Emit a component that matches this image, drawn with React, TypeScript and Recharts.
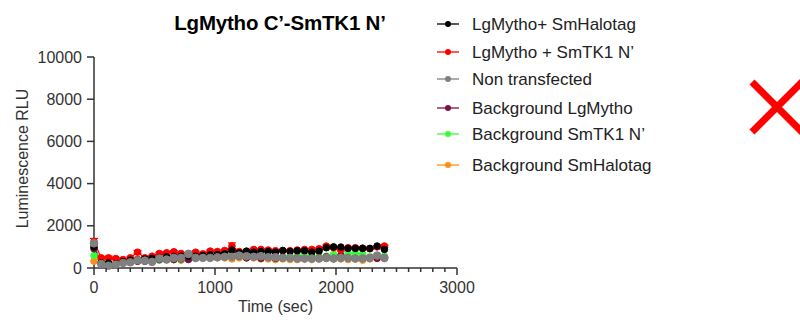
import { ErrorBar, Label, Line, LineChart, XAxis, YAxis } from "recharts"

const times = [0, 60, 120, 180, 240, 300, 360, 420, 480, 540, 600, 660, 720, 780, 840, 900, 960, 1020, 1080, 1140, 1200, 1260, 1320, 1380, 1440, 1500, 1560, 1620, 1680, 1740, 1800, 1860, 1920, 1980, 2040, 2100, 2160, 2220, 2280, 2340, 2400]

const halotag = [1000, 240, 240, 200, 300, 370, 400, 430, 460, 480, 530, 540, 560, 560, 560, 590, 620, 640, 670, 850, 720, 800, 750, 780, 780, 750, 830, 780, 820, 820, 750, 800, 960, 1000, 990, 930, 930, 930, 930, 1040, 880]
const tk1 = [1250, 480, 480, 450, 400, 480, 750, 480, 560, 690, 720, 770, 690, 640, 750, 670, 800, 780, 830, 1040, 780, 780, 880, 880, 850, 820, 820, 820, 850, 880, 880, 910, 1040, 960, 850, 960, 960, 940, 910, 1000, 1040]
const tk1Err = [150, 60, 80, 50, 40, 50, 80, 50, 40, 50, 50, 50, 40, 40, 50, 40, 50, 40, 50, 150, 40, 40, 50, 40, 40, 40, 40, 40, 40, 40, 40, 40, 50, 40, 40, 40, 40, 40, 40, 50, 50]
const nonTransfected = [1170, 190, 110, 160, 240, 270, 370, 350, 290, 450, 400, 480, 480, 670, 480, 480, 480, 510, 530, 530, 590, 560, 530, 560, 510, 510, 480, 480, 450, 450, 450, 450, 480, 450, 480, 480, 450, 460, 480, 590, 480]
const bgLgMytho = [910, 270, 160, 160, 270, 320, 320, 320, 400, 400, 430, 400, 430, 400, 480, 530, 560, 530, 560, 530, 560, 480, 530, 460, 500, 460, 510, 480, 480, 460, 480, 480, 530, 460, 590, 480, 460, 450, 480, 460, 480]
const bgSmTK1 = [590, 320, 240, 200, 240, 270, 320, 320, 320, 370, 400, 400, 400, 430, 450, 480, 480, 530, 560, 590, 560, 610, 620, 660, 560, 480, 530, 560, 590, 610, 590, 560, 560, 640, 560, 690, 690, 660, 530, 560, 560]
const bgSmHalotag = [320, 210, 160, 200, 270, 320, 370, 370, 400, 400, 400, 400, 370, 430, 590, 480, 480, 480, 480, 430, 480, 480, 480, 430, 430, 400, 430, 400, 400, 430, 400, 430, 450, 430, 430, 400, 430, 370, 430, 450, 450]

const xTicks = [0, 100, 200, 300, 400, 500, 600, 700, 800, 900, 1000, 1100, 1200, 1300, 1400, 1500, 1600, 1700, 1800, 1900, 2000, 2100, 2200, 2300, 2400, 2500, 2600, 2700, 2800, 2900, 3000]
const yTicks = [0, 2000, 4000, 6000, 8000, 10000]

const data = times.map((t, i) => ({
    t,
    halotag: halotag[i],
    tk1: tk1[i],
    tk1Err: tk1Err[i],
    nonTransfected: nonTransfected[i],
    bgLgMytho: bgLgMytho[i],
    bgSmTK1: bgSmTK1[i],
    bgSmHalotag: bgSmHalotag[i],
}))

const font = "'Liberation Sans', Arial, sans-serif"
const axisColor = "#333"

const legendItems = [
    { label: "LgMytho+ SmHalotag", color: "#000000", y: 24 },
    { label: "LgMytho + SmTK1 N\u2019", color: "#ff0000", y: 52 },
    { label: "Non transfected", color: "#808080", y: 79 },
    { label: "Background LgMytho", color: "#7a1045", y: 108 },
    { label: "Background SmTK1 N\u2019", color: "#33ff33", y: 134 },
    { label: "Background SmHalotag", color: "#ff8c1a", y: 165 },
]

function XTick(props: any) {
    const { x, y, payload } = props
    const major = payload.value % 1000 === 0
    return (
        <g>
            <line x1={x} x2={x} y1={y} y2={y + (major ? 7 : 4)} stroke={axisColor} strokeWidth={1.5} />
            {major && (
                <text x={x} y={y + 25} textAnchor="middle" fontSize={16} fill="#333" fontFamily={font}>
                    {payload.value}
                </text>
            )}
        </g>
    )
}

function App() {
    const series = [
        { key: "bgSmHalotag", color: "#ff8c1a", r: 3.3 },
        { key: "bgSmTK1", color: "#33ff33", r: 3.3 },
        { key: "bgLgMytho", color: "#7a1045", r: 3.3 },
        { key: "tk1", color: "#ff0000", r: 3.3 },
        { key: "halotag", color: "#000000", r: 3.3 },
        { key: "nonTransfected", color: "#808080", r: 3.8 },
    ]

    return (
        <div style={{ position: "absolute", left: 0, top: 0, width: 800, height: 323, background: "#fff", fontFamily: font }}>
            <div style={{ position: "absolute", left: 0, width: 560, top: 11, textAlign: "center", fontWeight: "bold", fontSize: 20.5, color: "#000", letterSpacing: -0.2 }}>
                LgMytho C’-SmTK1 N’
            </div>

            <LineChart width={800} height={323} data={data} margin={{ top: 57, right: 343, bottom: 0, left: 0 }}>
                <XAxis
                    dataKey="t"
                    type="number"
                    domain={[0, 3000]}
                    ticks={xTicks}
                    interval={0}
                    height={55}
                    tickSize={0}
                    tickMargin={0}
                    tickLine={false}
                    tick={<XTick />}
                    axisLine={{ stroke: axisColor, strokeWidth: 1.5 }}
                >
                    <Label
                        content={(p: any) => (
                            <text x={p.viewBox.x + p.viewBox.width / 2} y={p.viewBox.y + 44} textAnchor="middle" fontSize={16} fill="#333" fontFamily={font}>
                                Time (sec)
                            </text>
                        )}
                    />
                </XAxis>
                <YAxis
                    type="number"
                    domain={[0, 10000]}
                    ticks={yTicks}
                    width={94}
                    tickSize={7}
                    tickMargin={5}
                    tick={{ fontSize: 16, fill: "#333", fontFamily: font }}
                    tickLine={{ stroke: axisColor, strokeWidth: 1.5 }}
                    axisLine={{ stroke: axisColor, strokeWidth: 1.5 }}
                >
                    <Label
                        content={(p: any) => {
                            const cx = p.viewBox.x + 22
                            const cy = p.viewBox.y + p.viewBox.height / 2 - 4
                            return (
                                <text x={cx} y={cy} transform={`rotate(-90 ${cx} ${cy})`} textAnchor="middle" dominantBaseline="central" fontSize={16} fill="#333" fontFamily={font}>
                                    Luminescence RLU
                                </text>
                            )
                        }}
                    />
                </YAxis>
                {series.map((s) => (
                    <Line
                        key={s.key}
                        dataKey={s.key}
                        type="linear"
                        stroke={s.color}
                        strokeWidth={1.2}
                        dot={{ r: s.r, fill: s.color, stroke: s.color, strokeWidth: 1 }}
                        activeDot={false}
                        isAnimationActive={false}
                    >
                        {s.key === "tk1" && <ErrorBar dataKey="tk1Err" direction="y" width={4} stroke="#ff0000" strokeWidth={1.2} />}
                    </Line>
                ))}
            </LineChart>

            <svg width={800} height={323} style={{ position: "absolute", left: 0, top: 0, pointerEvents: "none" }}>
                {legendItems.map((item) => (
                    <g key={item.label}>
                        <line x1={437} x2={459} y1={item.y} y2={item.y} stroke={item.color} strokeWidth={1.3} />
                        <circle cx={448} cy={item.y} r={3} fill={item.color} />
                        <text x={472} y={item.y} dominantBaseline="central" fontSize={17} fill="#222" fontFamily={font}>
                            {item.label}
                        </text>
                    </g>
                ))}
                <line x1={752} y1={82} x2={806} y2={136} stroke="#ff0000" strokeWidth={7} />
                <line x1={752} y1={132} x2={806} y2={78} stroke="#ff0000" strokeWidth={7} />
            </svg>
        </div>
    )
}

export default App
